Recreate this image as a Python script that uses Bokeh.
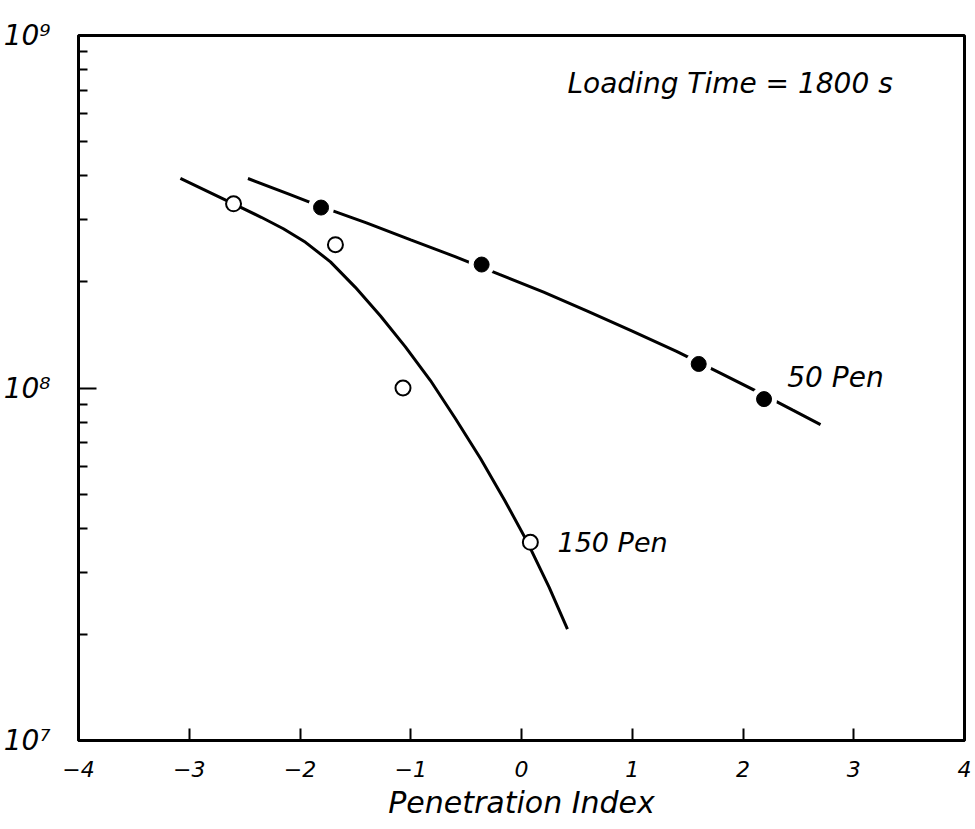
from bokeh.plotting import figure
from bokeh.models import Range1d, FixedTicker, CustomJSTickFormatter
from bokeh.core.properties import value
from bokeh.embed import file_html
from bokeh.resources import INLINE

# ---- data ----
x_ticks = [-4, -3, -2, -1, 0, 1, 2, 3, 4]
y_major_ticks = [1e7, 1e8, 1e9]
y_minor_ticks = [2e7, 3e7, 4e7, 5e7, 6e7, 7e7, 8e7, 9e7,
                 2e8, 3e8, 4e8, 5e8, 6e8, 7e8, 8e8, 9e8]

# 150 Pen: measured points (open circles) and drawn curve
pen150_x = [-2.60, -1.68, -1.07, 0.08]
pen150_y = [3.33e8, 2.55e8, 1.0e8, 3.65e7]
pen150_curve_x = [-3.08, -2.60, -2.35, -2.15, -1.95, -1.725, -1.50, -1.273, -1.05,
                  -0.822, -0.60, -0.37, -0.15, 0.054, 0.25, 0.415]
pen150_curve_y = [3.93e8, 3.33e8, 3.05e8, 2.83e8, 2.59e8, 2.28e8, 1.93e8, 1.60e8, 1.31e8,
                  1.05e8, 8.22e7, 6.31e7, 4.79e7, 3.65e7, 2.72e7, 2.07e7]

# 50 Pen: measured points (filled circles) and drawn curve
pen50_x = [-1.81, -0.36, 1.60, 2.19]
pen50_y = [3.25e8, 2.24e8, 1.17e8, 9.3e7]
pen50_curve_x = [-2.47, -2.1, -1.81, -1.4, -1.0, -0.6, -0.2, 0.2, 0.6, 1.0,
                 1.4, 1.8, 2.19, 2.45, 2.70]
pen50_curve_y = [3.93e8, 3.55e8, 3.27e8, 2.94e8, 2.63e8, 2.36e8, 2.10e8, 1.87e8,
                 1.65e8, 1.45e8, 1.27e8, 1.10e8, 9.55e7, 8.65e7, 7.87e7]

FONT = "DejaVu Sans"

p = figure(width=975, height=829,
           x_range=Range1d(-4, 4), y_range=Range1d(1e7, 1e9),
           y_axis_type="log", output_backend="svg", toolbar_location=None,
           min_border_left=78, min_border_right=11, min_border_top=35,
           min_border_bottom=89)
p.grid.visible = False
p.outline_line_color = "black"
p.outline_line_width = 3
p.background_fill_color = "white"
p.border_fill_color = "white"

# x axis
xa = p.xaxis[0]
xa.ticker = FixedTicker(ticks=x_ticks, minor_ticks=[])
xa.formatter = CustomJSTickFormatter(code="""
    return tick < 0 ? "\\u2212" + Math.abs(tick) : String(tick);
""")
xa.axis_line_width = 3
xa.major_tick_in = 12
xa.major_tick_out = 0
xa.major_tick_line_width = 2
xa.minor_tick_in = 0
xa.minor_tick_out = 0
xa.major_label_text_font = FONT
xa.major_label_text_font_style = "italic"
xa.major_label_text_font_size = "22px"
xa.major_label_text_color = "black"
xa.major_label_standoff = 20
xa.axis_label = "Penetration Index"
xa.axis_label_text_font = FONT
xa.axis_label_text_font_style = "italic"
xa.axis_label_text_font_size = "30px"
xa.axis_label_text_color = "black"
xa.axis_label_standoff = 5

# y axis
ya = p.yaxis[0]
ya.ticker = FixedTicker(ticks=y_major_ticks, minor_ticks=y_minor_ticks)
ya.formatter = CustomJSTickFormatter(code="""
    const sup = {"0":"\\u2070","1":"\\u00b9","2":"\\u00b2","3":"\\u00b3","4":"\\u2074",
                 "5":"\\u2075","6":"\\u2076","7":"\\u2077","8":"\\u2078","9":"\\u2079"};
    const e = String(Math.round(Math.log10(tick)));
    let s = "";
    for (const c of e) { s += sup[c]; }
    return "10" + s;
""")
ya.axis_line_width = 3
ya.major_tick_in = 18
ya.major_tick_out = 0
ya.major_tick_line_width = 2
ya.minor_tick_in = 9
ya.minor_tick_out = 0
ya.minor_tick_line_width = 2
ya.major_label_text_font = FONT
ya.major_label_text_font_style = "italic"
ya.major_label_text_font_size = "28px"
ya.major_label_text_color = "black"
ya.major_label_standoff = 28

# curves
p.line(pen150_curve_x, pen150_curve_y, line_color="black", line_width=3)
p.line(pen50_curve_x, pen50_curve_y, line_color="black", line_width=3)

# 50 Pen filled markers with white halo (gaps in the line)
p.scatter(pen50_x, pen50_y, size=26, marker="circle", fill_color="white", line_color=None)
p.scatter(pen50_x, pen50_y, size=15, marker="circle", fill_color="black", line_color="black")

# 150 Pen open markers
p.scatter(pen150_x, pen150_y, size=15, marker="circle", fill_color="white",
          line_color="black", line_width=2)

# annotations
p.text(x=[0.415], y=[7.3e8], text=["Loading Time = 1800 s"], text_font=value(FONT),
       text_font_style="italic", text_font_size="28px", text_baseline="middle",
       text_align="left", text_color="black")
p.text(x=[2.40], y=[1.07e8], text=["50 Pen"], text_font=value(FONT),
       text_font_style="italic", text_font_size="28px", text_baseline="middle",
       text_align="left", text_color="black")
p.text(x=[0.325], y=[3.65e7], text=["150 Pen"], text_font=value(FONT),
       text_font_style="italic", text_font_size="27px", text_baseline="middle",
       text_align="left", text_color="black")

open("out.html", "w").write(file_html(p, INLINE))
